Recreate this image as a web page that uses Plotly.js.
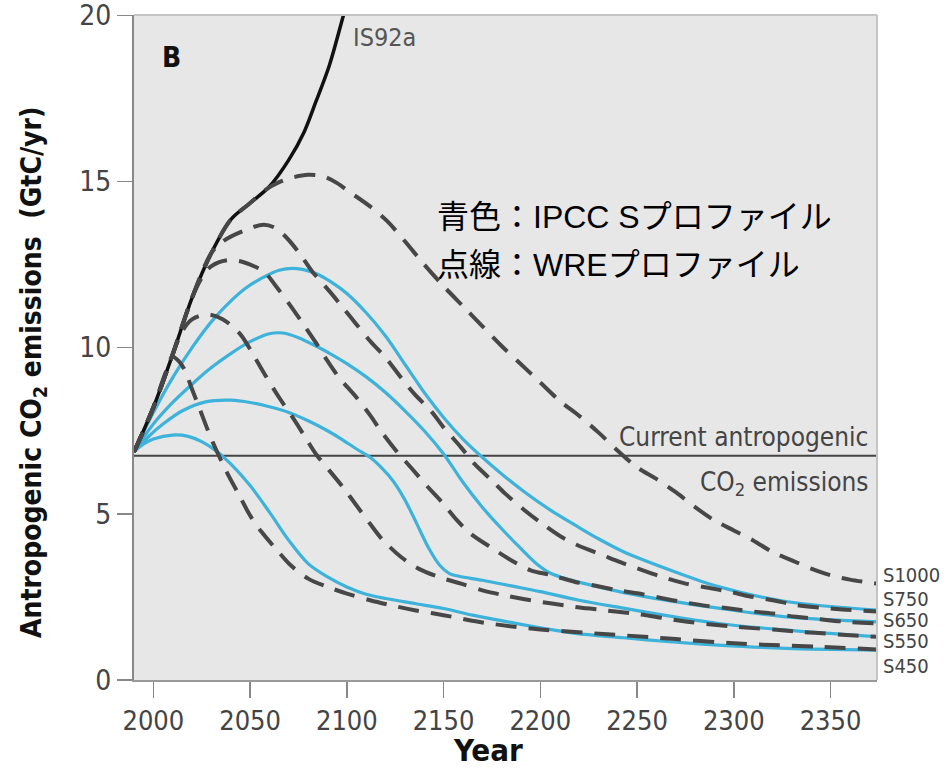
<!DOCTYPE html>
<html>
<head>
<meta charset="utf-8">
<script src="https://cdn.plot.ly/plotly-3.0.1.min.js"></script>
<style>html,body{margin:0;padding:0;background:#fff;}#chart{width:949px;height:774px;}</style>
</head>
<body>
<div id="chart"></div>
<script>
// ---------- data ----------
const xTicks = [2000, 2050, 2100, 2150, 2200, 2250, 2300, 2350];
const yTicks = [0, 5, 10, 15, 20];
const currentLevel = 6.75;           // current anthropogenic CO2 emissions (GtC/yr)
const xStart = 1990, xEnd = 2374;

const is92aYears = [1990, 2000, 2010, 2020, 2030, 2040, 2050, 2060, 2070, 2078, 2084, 2091, 2098, 2103];
const is92aVals  = [6.86, 8.2, 9.8, 11.5, 12.85, 13.85, 14.35, 14.85, 15.65, 16.5, 17.4, 18.5, 19.95, 21.0];

const wre450Years = [1990, 2000, 2006, 2010, 2013, 2016, 2020, 2024, 2030, 2038, 2044, 2050, 2056, 2064, 2071, 2080, 2090, 2100, 2112, 2125, 2135, 2150, 2168, 2180, 2200, 2226, 2241, 2270, 2298, 2320, 2343, 2374];
const wre450Vals  = [6.86, 8.2, 9.2, 9.72, 9.6, 9.35, 8.75, 8.15, 7.25, 6.25, 5.6, 4.95, 4.45, 3.9, 3.45, 3.05, 2.8, 2.6, 2.4, 2.22, 2.1, 1.95, 1.75, 1.65, 1.52, 1.41, 1.35, 1.23, 1.11, 1.05, 1.0, 0.92];

const wre550Years = [1990, 2000, 2010, 2015, 2020, 2028, 2036, 2045, 2051, 2057, 2065, 2072, 2078, 2084, 2091, 2098, 2105, 2112, 2118, 2128, 2137, 2149, 2159, 2171, 2183, 2195, 2206, 2218, 2230, 2240, 2251, 2263, 2275, 2287, 2298, 2310, 2322, 2334, 2344, 2356, 2374];
const wre550Vals  = [6.86, 8.2, 9.8, 10.5, 10.85, 11.0, 10.85, 10.4, 9.85, 9.25, 8.5, 7.9, 7.35, 6.8, 6.3, 5.8, 5.25, 4.7, 4.25, 3.7, 3.35, 3.07, 2.9, 2.68, 2.53, 2.4, 2.3, 2.2, 2.12, 2.05, 1.98, 1.87, 1.76, 1.68, 1.62, 1.56, 1.51, 1.45, 1.41, 1.36, 1.3];

const wre650Years = [1990, 2000, 2010, 2020, 2025, 2030, 2038, 2045, 2052, 2057, 2064, 2071, 2077, 2084, 2090, 2096, 2105, 2112, 2118, 2126, 2133, 2142, 2149, 2157, 2164, 2175, 2183, 2195, 2206, 2218, 2228, 2240, 2251, 2263, 2273, 2286, 2298, 2310, 2320, 2332, 2344, 2356, 2374];
const wre650Vals  = [6.86, 8.2, 9.8, 11.5, 12.1, 12.45, 12.63, 12.6, 12.45, 12.3, 11.8, 11.25, 10.75, 10.15, 9.6, 9.1, 8.5, 7.97, 7.46, 6.86, 6.4, 5.8, 5.36, 4.8, 4.4, 3.97, 3.67, 3.3, 3.15, 2.95, 2.84, 2.7, 2.6, 2.46, 2.35, 2.23, 2.15, 2.06, 2.0, 1.9, 1.83, 1.76, 1.7];

const wre750Years = [1990, 2000, 2010, 2020, 2030, 2036, 2046, 2057, 2063, 2069, 2076, 2082, 2091, 2098, 2105, 2112, 2120, 2128, 2135, 2144, 2150, 2159, 2166, 2175, 2182, 2192, 2201, 2211, 2219, 2232, 2241, 2253, 2263, 2275, 2286, 2298, 2308, 2320, 2332, 2344, 2356, 2374];
const wre750Vals  = [6.86, 8.2, 9.8, 11.5, 12.85, 13.2, 13.5, 13.7, 13.6, 13.3, 12.8, 12.3, 11.7, 11.2, 10.7, 10.2, 9.7, 9.1, 8.6, 8.06, 7.6, 7.0, 6.5, 6.0, 5.6, 5.1, 4.7, 4.3, 4.06, 3.76, 3.55, 3.3, 3.1, 2.9, 2.78, 2.65, 2.52, 2.4, 2.26, 2.18, 2.12, 2.06];

const wre1000Years = [1990, 2000, 2010, 2020, 2030, 2040, 2050, 2058, 2065, 2072, 2080, 2088, 2095, 2101, 2112, 2121, 2130, 2140, 2150, 2160, 2170, 2180, 2190, 2200, 2210, 2220, 2230, 2240, 2250, 2260, 2270, 2280, 2290, 2300, 2310, 2320, 2330, 2340, 2350, 2360, 2374];
const wre1000Vals  = [6.86, 8.2, 9.8, 11.5, 12.85, 13.85, 14.35, 14.75, 14.98, 15.12, 15.2, 15.15, 14.95, 14.7, 14.25, 13.8, 13.2, 12.5, 11.85, 11.25, 10.65, 10.05, 9.5, 8.95, 8.4, 7.95, 7.45, 6.9, 6.4, 6.05, 5.65, 5.2, 4.8, 4.5, 4.2, 3.85, 3.6, 3.35, 3.15, 3.02, 2.9];

const s450Years = [1990, 1995, 2000, 2010, 2018, 2025, 2033, 2040, 2050, 2060, 2070, 2080, 2090, 2100, 2110, 2120, 2135, 2150, 2165, 2183, 2200, 2218, 2243, 2267, 2292, 2327, 2374];
const s450Vals  = [6.87, 7.1, 7.25, 7.37, 7.33, 7.17, 6.87, 6.5, 5.85, 5.05, 4.2, 3.5, 3.1, 2.8, 2.58, 2.45, 2.3, 2.15, 1.95, 1.75, 1.57, 1.4, 1.27, 1.15, 1.05, 0.95, 0.9];

const s550Years = [1990, 1998, 2005, 2015, 2027, 2040, 2050, 2060, 2070, 2080, 2090, 2098, 2105, 2112, 2118, 2124, 2130, 2136, 2142, 2148, 2153, 2158, 2170, 2185, 2200, 2220, 2243, 2267, 2292, 2327, 2374];
const s550Vals  = [6.87, 7.35, 7.7, 8.1, 8.37, 8.42, 8.35, 8.22, 8.05, 7.8, 7.5, 7.22, 6.95, 6.7, 6.38, 5.98, 5.42, 4.72, 4.0, 3.45, 3.2, 3.12, 3.0, 2.83, 2.66, 2.4, 2.16, 1.92, 1.7, 1.5, 1.3];

const s650Years = [1990, 2000, 2010, 2020, 2030, 2040, 2050, 2060, 2067, 2075, 2084, 2092, 2100, 2110, 2120, 2130, 2140, 2150, 2160, 2170, 2180, 2190, 2198, 2205, 2215, 2230, 2243, 2267, 2292, 2327, 2374];
const s650Vals  = [6.87, 7.7, 8.35, 8.9, 9.4, 9.82, 10.18, 10.42, 10.44, 10.3, 10.05, 9.8, 9.52, 9.12, 8.65, 8.1, 7.5, 6.8, 5.95, 5.2, 4.55, 3.95, 3.5, 3.22, 3.02, 2.8, 2.63, 2.38, 2.16, 1.9, 1.75];

const s750Years = [1990, 2000, 2010, 2020, 2031, 2040, 2048, 2057, 2065, 2074, 2084, 2092, 2100, 2110, 2120, 2130, 2140, 2150, 2160, 2170, 2180, 2192, 2205, 2218, 2230, 2243, 2267, 2292, 2327, 2374];
const s750Vals  = [6.87, 8.05, 9.1, 10.0, 10.85, 11.4, 11.8, 12.12, 12.33, 12.38, 12.23, 11.97, 11.63, 11.05, 10.35, 9.5, 8.65, 7.9, 7.25, 6.7, 6.2, 5.65, 5.12, 4.66, 4.25, 3.86, 3.31, 2.81, 2.36, 2.1];

const endLabels = ['S1000', 'S750', 'S650', 'S550', 'S450'];
const legendLines = ['青色：IPCC Sプロファイル', '点線：WREプロファイル'];

// ---------- styling ----------
const narrow = 'DejaVu Sans Condensed, Liberation Sans Narrow, Arial Narrow, sans-serif';
const BLUE = '#3db2db';
const DASH = '#474747';

function blue(x, y, name) {
  return {x, y, name, type: 'scatter', mode: 'lines', hoverinfo: 'skip',
          line: {color: BLUE, width: 3.2, shape: 'spline', smoothing: 0.9}};
}
function dashed(x, y, name) {
  return {x, y, name, type: 'scatter', mode: 'lines', hoverinfo: 'skip',
          line: {color: DASH, width: 4, dash: '21px,12px', shape: 'spline', smoothing: 0.9}};
}

const traces = [
  {x: [xStart, xEnd], y: [currentLevel, currentLevel], type: 'scatter', mode: 'lines',
   line: {color: '#444', width: 2}, hoverinfo: 'skip', name: 'current'},
  blue(s450Years, s450Vals, 'S450'),
  blue(s550Years, s550Vals, 'S550'),
  blue(s650Years, s650Vals, 'S650'),
  blue(s750Years, s750Vals, 'S750'),
  {x: is92aYears, y: is92aVals, type: 'scatter', mode: 'lines', name: 'IS92a', hoverinfo: 'skip',
   line: {color: '#111', width: 3.5, shape: 'spline', smoothing: 0.9}},
  dashed(wre450Years, wre450Vals, 'WRE450'),
  dashed(wre550Years, wre550Vals, 'WRE550'),
  dashed(wre650Years, wre650Vals, 'WRE650'),
  dashed(wre750Years, wre750Vals, 'WRE750'),
  dashed(wre1000Years, wre1000Vals, 'WRE1000'),
];

const labelY = [3.16, 2.44, 1.8, 1.17, 0.42];
const annotations = [];
endLabels.forEach((t, i) => annotations.push({
  text: t, xref: 'paper', yref: 'y', x: 1.006, y: labelY[i], xanchor: 'left', yanchor: 'middle',
  showarrow: false, font: {family: narrow, size: 20, color: '#444'}
}));
annotations.push(
  {text: 'B', xref: 'x', yref: 'y', x: 2009.6, y: 18.74, showarrow: false,
   font: {family: narrow, size: 28, color: '#111', weight: 'bold'}},
  {text: 'IS92a', xref: 'x', yref: 'y', x: 2102.3, y: 19.33, xanchor: 'left', yanchor: 'middle', showarrow: false,
   font: {family: narrow, size: 25, color: '#555'}},
  {text: legendLines[0], xref: 'x', yref: 'y', x: 2145.4, y: 13.92, xanchor: 'left', yanchor: 'middle', showarrow: false,
   font: {family: 'Liberation Sans, Noto Sans CJK JP, sans-serif', size: 32, color: '#000'}},
  {text: legendLines[1], xref: 'x', yref: 'y', x: 2145.4, y: 12.48, xanchor: 'left', yanchor: 'middle', showarrow: false,
   font: {family: 'Liberation Sans, Noto Sans CJK JP, sans-serif', size: 32, color: '#000'}},
  {text: 'Current antropogenic', xref: 'x', yref: 'y', x: 2370.5, y: 7.31, xanchor: 'right', yanchor: 'middle', showarrow: false,
   font: {family: narrow, size: 26, color: '#444'}},
  {text: 'CO<sub>2</sub> emissions', xref: 'x', yref: 'y', x: 2370.5, y: 5.92, xanchor: 'right', yanchor: 'middle', showarrow: false,
   font: {family: narrow, size: 26, color: '#444'}},
  {text: 'Year', xref: 'paper', yref: 'paper', x: 0.4765, y: -0.105, xanchor: 'center', yanchor: 'middle', showarrow: false,
   font: {family: narrow, size: 31, color: '#111', weight: 'bold'}},
  {text: 'Antropogenic CO<sub>2</sub> emissions\u00a0\u00a0(GtC/yr)', xref: 'paper', yref: 'paper', x: -0.136, y: 0.463,
   textangle: -90, xanchor: 'center', yanchor: 'middle', showarrow: false,
   font: {family: narrow, size: 28, color: '#111', weight: 'bold'}}
);

const layout = {
  width: 949, height: 774,
  margin: {l: 134, r: 72, t: 15, b: 94, pad: 0},
  paper_bgcolor: '#ffffff', plot_bgcolor: '#e7e7e7',
  showlegend: false,
  xaxis: {range: [xStart, xEnd], tickvals: xTicks, ticktext: xTicks.map(String), showgrid: false, zeroline: false,
          ticks: 'outside', ticklen: 16, tickwidth: 1.5, tickcolor: '#888',
          showline: true, linecolor: '#999', linewidth: 2,
          tickfont: {family: narrow, size: 27, color: '#444'}},
  yaxis: {range: [-0.001, 20.01], tickvals: yTicks, ticktext: yTicks.map(String), showgrid: false, zeroline: false,
          ticks: 'outside', ticklen: 15, tickwidth: 1.5, tickcolor: '#888',
          showline: true, linecolor: '#888', linewidth: 2, ticklabeloverflow: 'allow',
          tickfont: {family: narrow, size: 28, color: '#444'}},
  shapes: [
    {type: 'line', xref: 'paper', yref: 'paper', x0: 0, x1: 1, y0: 1, y1: 1, line: {color: '#c4c4c4', width: 2}},
    {type: 'line', xref: 'paper', yref: 'paper', x0: 1, x1: 1, y0: 0, y1: 1, line: {color: '#c4c4c4', width: 2}}
  ],
  annotations
};

Plotly.newPlot('chart', traces, layout, {staticPlot: true, displayModeBar: false});
</script>
</body>
</html>
